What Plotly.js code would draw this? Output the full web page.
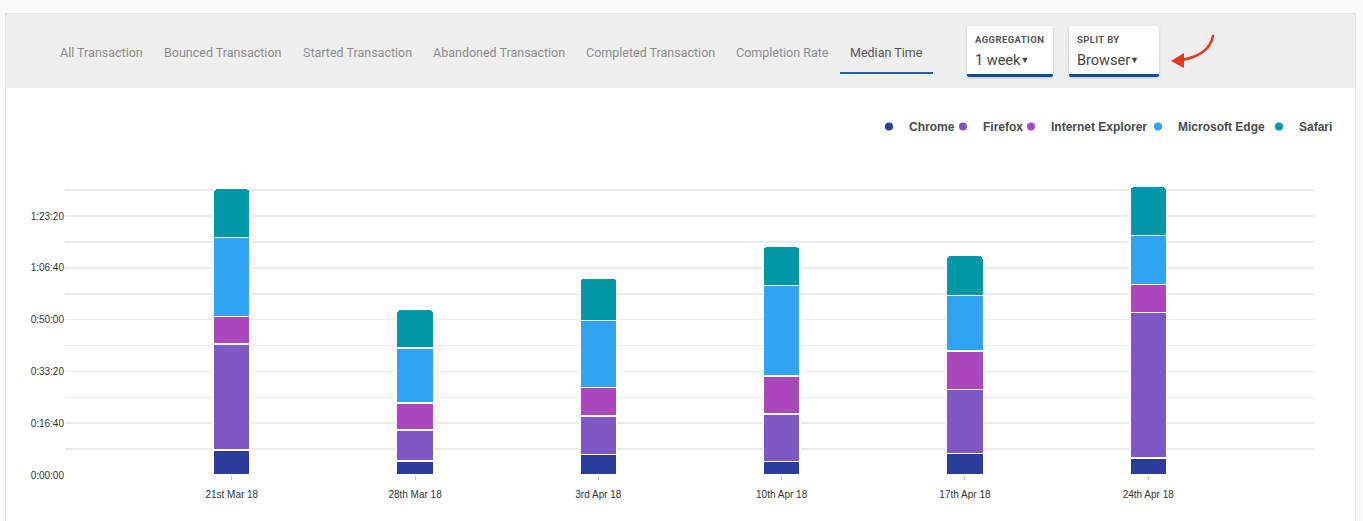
<!DOCTYPE html>
<html>
<head>
<meta charset="utf-8">
<script src="https://cdn.plot.ly/plotly-3.0.1.min.js"></script>
<style>
  html, body { margin: 0; padding: 0; background: #fafafa; width: 1363px; height: 521px; overflow: hidden; }
  #card { position: absolute; left: 5px; top: 13px; width: 1351px; height: 520px; background: #fff; border: 1px solid #e4e4e4; box-sizing: border-box; }
  #chart { position: absolute; left: 0; top: 0; width: 1363px; height: 521px; }
  #header { position: absolute; left: 6px; top: 14px; width: 1349px; height: 74px; background: #efefef; }
  .tab { position: absolute; top: 45px; font-family: Roboto, sans-serif; font-size: 12.5px; color: #8d8d8d; white-space: nowrap; line-height: 16px; }
  .tab.active { color: #555; }
  #underline { position: absolute; left: 840px; top: 72px; width: 93px; height: 2px; background: #1f5ea3; }
  .box { position: absolute; top: 26px; height: 48px; background: #fff; border-bottom: 3px solid #0f4f97; border-radius: 2px; box-shadow: 0 1px 3px rgba(0,0,0,0.18); font-family: Roboto, sans-serif; }
  .box .lbl { position: absolute; left: 8px; top: 8px; font-size: 9.5px; font-weight: bold; color: #555; letter-spacing: 0.4px; white-space: nowrap; }
  .box .val { position: absolute; left: 8px; top: 26px; font-size: 14.5px; color: #444; white-space: nowrap; }
  .caret { font-size: 9px; position: relative; top: -2px; }
  #arrow { position: absolute; left: 1160px; top: 28px; }
</style>
</head>
<body>
<div id="card"></div>
<div id="chart"></div>
<div id="header"></div>
<div class="tab" style="left:60px">All Transaction</div>
<div class="tab" style="left:164px">Bounced Transaction</div>
<div class="tab" style="left:303px">Started Transaction</div>
<div class="tab" style="left:433px">Abandoned Transaction</div>
<div class="tab" style="left:586px">Completed Transaction</div>
<div class="tab" style="left:736px">Completion Rate</div>
<div class="tab active" style="left:850px">Median Time</div>
<div id="underline"></div>
<div class="box" style="left:967px;width:86px"><div class="lbl">AGGREGATION</div><div class="val">1 week<span class="caret">▼</span></div></div>
<div class="box" style="left:1069px;width:90px"><div class="lbl">SPLIT BY</div><div class="val">Browser<span class="caret">▼</span></div></div>
<svg id="arrow" width="60" height="45" viewBox="0 0 60 45">
  <path d="M 53 8 C 51 18, 44 28, 22 32" fill="none" stroke="#e5391d" stroke-width="2.6" stroke-linecap="round"/>
  <polygon points="11,33 24,25 24,40" fill="#e5391d"/>
</svg>
<script>
// ---- data (values in seconds) ----
const categories = ['21st Mar 18', '28th Mar 18', '3rd Apr 18', '10th Apr 18', '17th Apr 18', '24th Apr 18'];
const chrome  = [482, 270, 399, 256, 418, 328];
const firefox = [2044, 598, 744, 926, 1235, 2809];
const ie      = [534, 526, 548, 733, 738, 540];
const edge    = [1523, 1061, 1292, 1749, 1080, 945];
const safari  = [945, 740, 816, 746, 765, 945];
const seriesNames = ['Chrome', 'Firefox', 'Internet Explorer', 'Microsoft Edge', 'Safari'];
const yTickVals = [0, 1000, 2000, 3000, 4000, 5000];
const yTickText = ['0:00:00', '0:16:40', '0:33:20', '0:50:00', '1:06:40', '1:23:20'];

const colors = ['#2b3d99', '#7e57c2', '#ab47bc', '#30a3f3', '#0097a7'];
const seriesValues = [chrome, firefox, ie, edge, safari];
const legendIds = ['legend', 'legend2', 'legend3', 'legend4', 'legend5'];
const legendX = [0.6432, 0.7024, 0.7568, 0.8584, 0.9552];

const traces = [];
seriesValues.forEach((vals, i) => {
  traces.push({
    type: 'bar', x: categories, y: vals, name: seriesNames[i],
    legendgroup: seriesNames[i], showlegend: false,
    marker: { color: colors[i], line: { color: '#ffffff', width: 1.5 }, cornerradius: 3 }
  });
});
// legend entries with round symbols
seriesValues.forEach((vals, i) => {
  traces.push({
    type: 'scatter', mode: 'markers', x: [null], y: [null], name: seriesNames[i],
    legendgroup: seriesNames[i], showlegend: true, hoverinfo: 'skip', legend: legendIds[i],
    marker: { color: colors[i], size: 8, symbol: 'circle' }
  });
});

const layout = {
  width: 1363, height: 521,
  paper_bgcolor: 'rgba(0,0,0,0)', plot_bgcolor: 'rgba(0,0,0,0)',
  margin: { l: 65, r: 48, t: 185, b: 46 },
  barmode: 'stack', bargap: 0.8,
  font: { family: '"Liberation Sans", Arial, sans-serif', color: '#333' },
  xaxis: {
    type: 'category', range: [-0.91, 5.91],
    showgrid: false, zeroline: false, showline: false,
    ticks: 'outside', ticklen: 4, tickcolor: '#c8c8c8', tickwidth: 1,
    ticklabelstandoff: 6,
    tickfont: { size: 10, color: '#333' }
  },
  yaxis: {
    range: [0, 5600], tickmode: 'array', tickvals: yTickVals, ticktext: yTickText,
    showgrid: true, gridcolor: '#ebebeb', gridwidth: 1.5,
    zeroline: false, showline: false, ticks: '',
    tickfont: { size: 10, color: '#333' },
    minor: { dtick: 500, tick0: 0, showgrid: true, gridcolor: '#ebebeb', gridwidth: 1.5, ticks: '' }
  },
  showlegend: true
};
legendIds.forEach((id, i) => {
  layout[id] = {
    orientation: 'h', xanchor: 'left', x: legendX[i], yanchor: 'top', y: 1.252,
    font: { family: '"Liberation Sans", Arial, sans-serif', size: 12, color: '#4a4a4a', weight: 'bold' },
    bgcolor: 'rgba(0,0,0,0)', borderwidth: 0, itemclick: false, itemdoubleclick: false
  };
});

Plotly.newPlot('chart', traces, layout, { displayModeBar: false, staticPlot: true });
</script>
</body>
</html>
